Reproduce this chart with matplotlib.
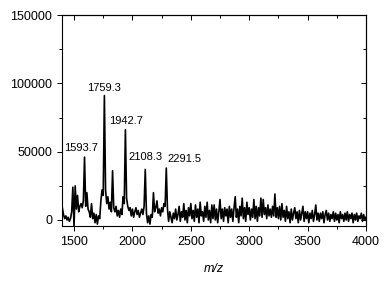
import numpy as np
import matplotlib.pyplot as plt
from matplotlib.ticker import MultipleLocator

plt.rcParams['font.family'] = ['Liberation Sans', 'DejaVu Sans']

# m/z grid, one reading every 10 units
mz = np.arange(1400, 4001, 10)

# intensity, in thousands of counts
intensity_k = [
    9, 4, 1, 3, 0, 2, -1, 1, 6, 24,            # 1400
    -5, 25, 8, 18, 6, 10, 12, 9, 14, 46,       # 1500
    10, 20, 8, 6, 2, 12, 1, 5, -2, 4,          # 1600
    -3, 3, 1, 14, 22, 18, 91, 22, 12, 17,      # 1700
    8, 13, 6, 36, 9, 6, 10, 3, 7, 2,           # 1800
    8, 4, 17, 12, 66, 16, 10, 7, 9, 3,         # 1900
    8, 2, 6, 9, 4, 7, 2, 5, 8, 4,              # 2000
    10, 37, 5, -2, 3, -3, 4, 2, 20, 6,         # 2100
    9, 14, 5, 8, 3, 9, 6, 12, 10, 38,          # 2200
    8, -1, 6, 2, -2, 5, 1, 8, 0, 4,            # 2300
    10, -1, 6, 2, 12, 0, 7, -2, 9, 3,          # 2400
    12, 1, 7, -1, 11, 2, 8, -2, 13, 3,         # 2500
    6, -1, 10, 2, 13, 0, 7, -2, 11, 1,         # 2600
    11, 0, 8, -2, 6, 15, 1, 8, -1, 9,          # 2700
    3, 8, -2, 10, 2, 8, -1, 9, 17, 2,          # 2800
    8, -2, 10, 3, 16, 1, 9, -1, 13, 4,         # 2900
    9, 0, 8, 2, 15, 1, 10, -1, 9, 3,           # 3000
    16, 2, 15, 4, 9, 1, 11, 3, 8, 2,           # 3100
    10, 3, 19, 2, 9, 1, 10, 0, 12, 2,          # 3200
    7, -1, 10, 1, 6, -2, 8, 0, 5, 9,           # 3300
    1, 6, -2, 7, 0, 5, 10, -1, 6, 1,           # 3400
    6, -2, 5, 1, 7, -1, 4, 11, 0, 5,           # 3500
    -1, 5, 1, 6, -2, 4, 7, 0, 5, -1,           # 3600
    4, 1, 6, -1, 5, 0, 4, -2, 6, 1,            # 3700
    4, -1, 5, 0, 6, -1, 4, 1, 5, -2,           # 3800
    4, 0, 5, -1, 3, 1, 5, -1, 4, 0,            # 3900
    2,                                         # 4000
]
intensity = np.array(intensity_k) * 1000

peak_labels = ['1593.7', '1759.3', '1942.7', '2108.3', '2291.5']

fig = plt.figure(figsize=(3.86, 2.81), dpi=100)
ax = fig.add_axes([0.1606, 0.1957, 0.7876, 0.7509])

ax.plot(mz, intensity, color='black', lw=1.2)

# label placement (data coords)
label_pos = [(1556, 52500), (1761, 96400), (1949, 72300), (2112, 46000), (2442, 44500)]
for txt, (lx, ly) in zip(peak_labels, label_pos):
    ax.text(lx, ly, txt, ha='center', va='center', fontsize=8)

ax.set_xlim(1397, 4000)
ax.set_ylim(-4400, 150000)
ax.xaxis.set_major_locator(MultipleLocator(500))
ax.xaxis.set_minor_locator(MultipleLocator(250))
ax.yaxis.set_major_locator(MultipleLocator(50000))
ax.yaxis.set_minor_locator(MultipleLocator(25000))

ax.tick_params(which='both', direction='out', labelsize=9, width=0.7, top=False, right=False)
ax.tick_params(which='major', length=3.5)
ax.tick_params(which='minor', length=2)

# mirrored ticks on top and right, pointing in
for pos in ['top', 'right']:
    sec = ax.secondary_xaxis('top') if pos == 'top' else ax.secondary_yaxis('right')
    axis = sec.xaxis if pos == 'top' else sec.yaxis
    axis.set_major_locator(MultipleLocator(500 if pos == 'top' else 50000))
    axis.set_minor_locator(MultipleLocator(250 if pos == 'top' else 25000))
    sec.tick_params(which='both', direction='in', labelleft=False, labelright=False,
                    labeltop=False, width=0.7)
    sec.tick_params(which='major', length=3.5)
    sec.tick_params(which='minor', length=2)

for s in ax.spines.values():
    s.set_linewidth(0.8)

ax.set_xlabel('m/z', fontsize=9, style='italic', labelpad=11)

fig.savefig('out.png', dpi=100)
